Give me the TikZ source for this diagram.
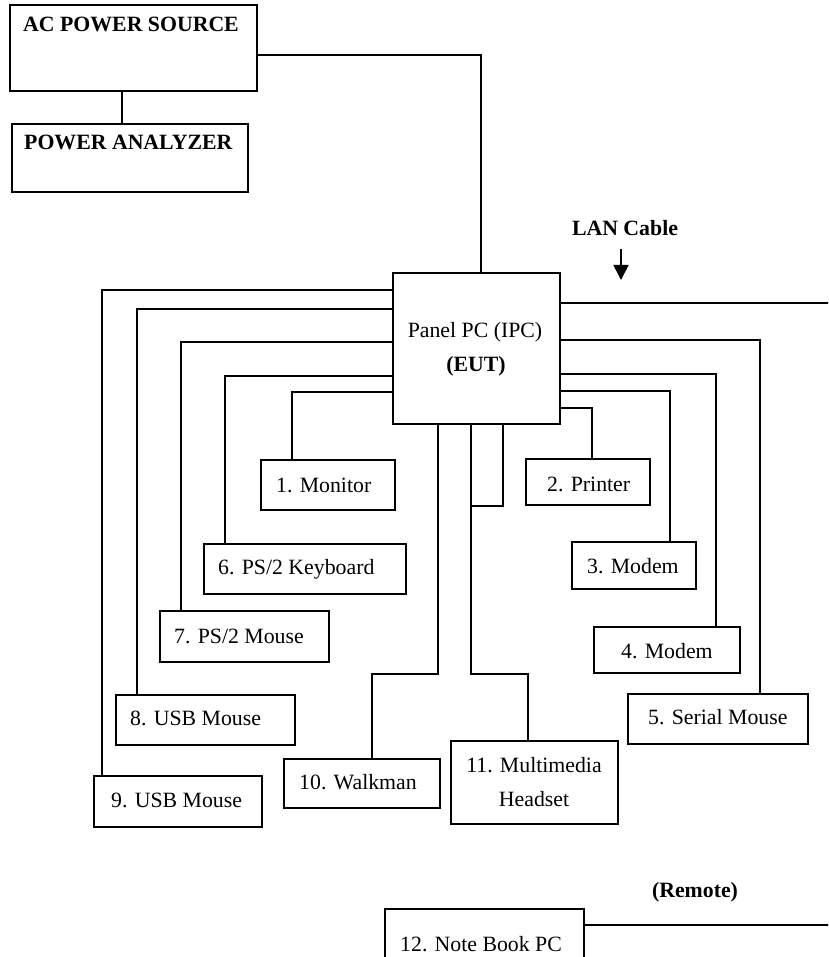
\documentclass[tikz,border=0pt]{standalone}
\usepackage{fontspec}
\setmainfont{Liberation Serif}
\usetikzlibrary{arrows.meta}
\tikzset{
  box/.style={draw, line width=2pt, rectangle, anchor=north west, inner sep=0pt},
  lbl/.style={anchor=base west, inner sep=0pt, font=\fontsize{21.8}{26}\selectfont},
  lblc/.style={lbl, anchor=base},
  blbl/.style={lbl, font=\fontsize{21.8}{26}\selectfont\bfseries},
  blblc/.style={blbl, anchor=base},
  wire/.style={line width=2pt},
}
\begin{document}
\begin{tikzpicture}[x=1pt,y=-1pt]
\fill[white] (0,0) rectangle (828,957);
\clip (0,0) rectangle (828,957);
% boxes
\node[box, minimum width=247pt, minimum height=86pt] (ac) at (9,4) {};
\node[box, minimum width=236pt, minimum height=68pt] (pa) at (11,123) {};
\node[box, minimum width=167pt, minimum height=151pt] (pc) at (392,272) {};
\node[box, minimum width=134pt, minimum height=50pt] (mon) at (260,459) {};
\node[box, minimum width=124pt, minimum height=46pt] (prn) at (525,458) {};
\node[box, minimum width=124pt, minimum height=47pt] (m3) at (571,541) {};
\node[box, minimum width=146pt, minimum height=46pt] (m4) at (593,626) {};
\node[box, minimum width=180pt, minimum height=50pt] (ser) at (627,693) {};
\node[box, minimum width=202pt, minimum height=50pt] (kb) at (203,543) {};
\node[box, minimum width=169pt, minimum height=51pt] (psm) at (159,610) {};
\node[box, minimum width=179pt, minimum height=50pt] (usb8) at (115,694) {};
\node[box, minimum width=168pt, minimum height=51pt] (usb9) at (93,775) {};
\node[box, minimum width=156pt, minimum height=49pt] (walk) at (283,758) {};
\node[box, minimum width=167pt, minimum height=83pt] (mm) at (450,740) {};
\node[box, minimum width=199pt, minimum height=70pt] (nb) at (384,908) {};
% labels
\node[blbl] (ac-t) at (23,32) {AC POWER SOURCE};
\node[blbl] (pa-t) at (24,150) {POWER ANALYZER};
\node[lblc] (pc-t1) at (475,337) {Panel PC (IPC)};
\node[blblc] (pc-t2) at (476,371) {(EUT)};
\node[lbl] (mon-t) at (276,492) {1. Monitor};
\node[lbl] (prn-t) at (547,491) {2. Printer};
\node[lbl] (m3-t) at (587,573) {3. Modem};
\node[lbl] (m4-t) at (621,658) {4. Modem};
\node[lbl] (ser-t) at (648,724) {5. Serial Mouse};
\node[lbl] (kb-t) at (218,574) {6. PS/2 Keyboard};
\node[lbl] (psm-t) at (174,643) {7. PS/2 Mouse};
\node[lbl] (usb8-t) at (130,725) {8. USB Mouse};
\node[lbl] (usb9-t) at (111,807) {9. USB Mouse};
\node[lbl] (walk-t) at (299,789) {10. Walkman};
\node[lblc] (mm-t1) at (534,772) {11. Multimedia};
\node[lblc] (mm-t2) at (534,806) {Headset};
\node[lbl] (nb-t) at (400,951) {12. Note Book PC};
\node[blblc] (rem) at (695,897) {(Remote)};
\node[blblc] (lan) at (625,236) {LAN Cable};
% power connectors
\coordinate (t1) at (481,55);
\draw[wire] (ac.east |- t1) -- (t1) -- (t1 |- pc.north);
\coordinate (t2) at (122,100);
\draw[wire] (t2 |- ac.south) -- (t2 |- pa.north);
% LAN
\coordinate (lanA) at (621,249);
\coordinate (lanB) at (621,280);
\draw[line width=1.6pt, -{Triangle[width=15pt,length=15pt]}] (lanA) -- (lanB);
\coordinate (lanE) at (830,303);
\draw[wire] (pc.east |- lanE) -- (lanE);
% left connectors
\coordinate (l1) at (102,290);
\draw[wire] (pc.west |- l1) -- (l1) -- (l1 |- usb9.north);
\coordinate (l2) at (137,309);
\draw[wire] (pc.west |- l2) -- (l2) -- (l2 |- usb8.north);
\coordinate (l3) at (181,342);
\draw[wire] (pc.west |- l3) -- (l3) -- (l3 |- psm.north);
\coordinate (l4) at (225,376);
\draw[wire] (pc.west |- l4) -- (l4) -- (l4 |- kb.north);
\coordinate (l5) at (292,392);
\draw[wire] (pc.west |- l5) -- (l5) -- (l5 |- mon.north);
% right connectors
\coordinate (r1) at (760,340);
\draw[wire] (pc.east |- r1) -- (r1) -- (r1 |- ser.north);
\coordinate (r2) at (716,374);
\draw[wire] (pc.east |- r2) -- (r2) -- (r2 |- m4.north);
\coordinate (r3) at (670,391);
\draw[wire] (pc.east |- r3) -- (r3) -- (r3 |- m3.north);
\coordinate (r4) at (592,408);
\draw[wire] (pc.east |- r4) -- (r4) -- (r4 |- prn.north);
% bottom connectors
\coordinate (b1) at (438,674);
\coordinate (b1b) at (372,674);
\draw[wire] (b1 |- pc.south) -- (b1) -- (b1b) -- (b1b |- walk.north);
\coordinate (b2) at (471,674);
\coordinate (b2b) at (528,674);
\draw[wire] (b2 |- pc.south) -- (b2) -- (b2b) -- (b2b |- mm.north);
\coordinate (b3) at (503,506);
\draw[wire] (b3 |- pc.south) -- (b3) -- (b2 |- b3);
% remote
\coordinate (rE) at (830,925);
\draw[wire] (nb.east |- rE) -- (rE);
\end{tikzpicture}
\end{document}
